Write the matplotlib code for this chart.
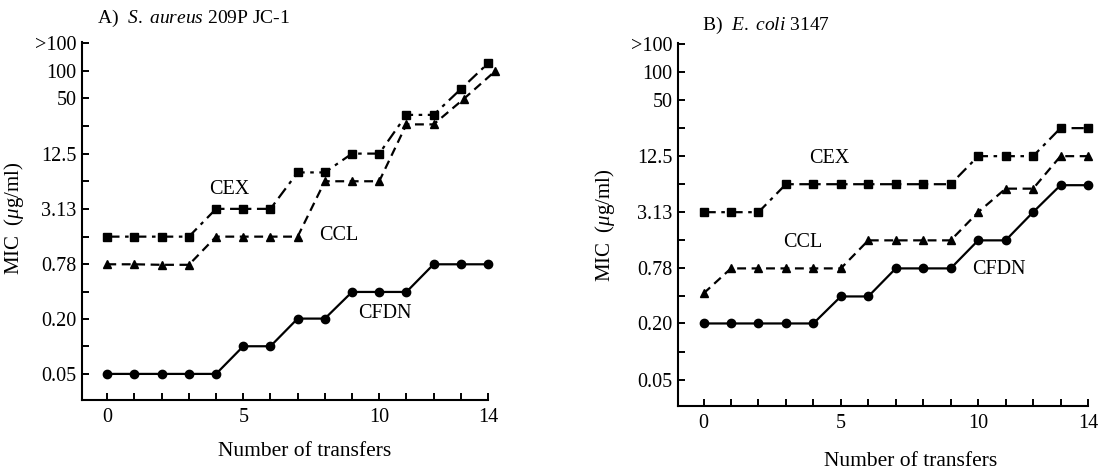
import matplotlib
matplotlib.use("Agg")
import matplotlib.pyplot as plt

plt.rcParams["font.family"] = ["Liberation Serif", "DejaVu Serif"]
plt.rcParams["mathtext.fontset"] = "custom"
plt.rcParams["mathtext.rm"] = "Liberation Serif"
plt.rcParams["mathtext.it"] = "Liberation Serif:italic"

transfers = list(range(15))

# MIC tick values (two-fold dilution series); the top row stands for ">100"
mic_ticks = [0.05, 0.1, 0.2, 0.39, 0.78, 1.56, 3.13, 6.25, 12.5, 25, 50, 100, 200]
mic_labels = ["0.05", "", "0.20", "", "0.78", "", "3.13", "", "12.5", "", "50", "100", ">100"]
x_ticks = list(range(15))
x_labels = ["0", "", "", "", "", "5", "", "", "", "", "10", "", "", "", "14"]

# Panel A: S. aureus 209P JC-1
a_cex = [1.56, 1.56, 1.56, 1.56, 3.13, 3.13, 3.13, 7.8, 7.8, 12.5, 12.5, 33, 33, 63, 120]
a_ccl_x = [0, 1, 2, 3, 4, 5, 6, 7, 8, 9, 10, 11, 12, 13.1, 14.25]
a_ccl = [0.78, 0.78, 0.77, 0.77, 1.56, 1.56, 1.56, 1.56, 6.25, 6.25, 6.25, 26, 26, 49, 98]
a_cfdn = [0.05, 0.05, 0.05, 0.05, 0.05, 0.1, 0.1, 0.2, 0.2, 0.39, 0.39, 0.39, 0.78, 0.78, 0.78]

# Panel B: E. coli 3147
b_cex = [3.13, 3.13, 3.13, 6.25, 6.25, 6.25, 6.25, 6.25, 6.25, 6.25, 12.5, 12.5, 12.5, 25, 25]
b_ccl = [0.42, 0.78, 0.78, 0.78, 0.78, 0.78, 1.56, 1.56, 1.56, 1.56, 3.13, 5.6, 5.6, 12.5, 12.5]
b_cfdn = [0.2, 0.2, 0.2, 0.2, 0.2, 0.39, 0.39, 0.78, 0.78, 0.78, 1.56, 1.56, 3.13, 6.1, 6.1]

fig = plt.figure(figsize=(11.11, 4.76), dpi=100)
W, H = 1111, 476


def make_axes(left, right, top, bottom):
    return fig.add_axes([left / W, 1 - bottom / H, (right - left) / W, (bottom - top) / H])


ax_a = make_axes(82, 488, 42, 400)
ax_b = make_axes(678, 1088, 43, 406)

lw = 1.6
for ax in (ax_a, ax_b):
    ax.set_yscale("log", base=2)
    ax.set_ylim(0.026, 205)
    ax.set_xlim(-0.93, 14)
    ax.set_yticks(mic_ticks)
    ax.set_yticklabels(mic_labels)
    ax.minorticks_off()
    ax.set_xticks(x_ticks)
    ax.set_xticklabels(x_labels)
    ax.tick_params(axis="both", direction="in", length=5, width=1.4,
                   labelsize=14.5, color="black")
    ax.tick_params(axis="x", pad=6)
    ax.tick_params(axis="y", pad=4)
    for side in ("top", "right"):
        ax.spines[side].set_visible(False)
    for side in ("left", "bottom"):
        ax.spines[side].set_linewidth(1.5)
    ax.set_facecolor("white")


def draw(ax, cex, ccl_x, ccl, cfdn):
    ax.plot(transfers, cex, color="black", lw=lw, dashes=(5.5, 2.5, 1.6, 2.5),
            marker="s", markersize=5.5, clip_on=False)
    ax.plot(ccl_x, ccl, color="black", lw=lw, dashes=(4, 2.5),
            marker="^", markersize=6, clip_on=False)
    ax.plot(transfers, cfdn, color="black", lw=lw, linestyle="-",
            marker="o", markersize=6, clip_on=False)


draw(ax_a, a_cex, a_ccl_x, a_ccl, a_cfdn)
draw(ax_b, b_cex, transfers, b_ccl, b_cfdn)

lab = dict(fontsize=14.5, ha="center", va="center")
ax_a.text(4.49, 5.1, "CEX", **lab)
ax_a.text(8.5, 1.6, "CCL", **lab)
ax_a.text(10.22, 0.23, "CFDN", **lab)
ax_b.text(4.56, 11.9, "CEX", **lab)
ax_b.text(3.61, 1.48, "CCL", **lab)
ax_b.text(10.77, 0.76, "CFDN", **lab)

# Panel titles
fig.text(97 / W, 1 - 18 / H, r"A)  $S.\ aureus$ 209P JC-1", fontsize=14, ha="left", va="center")
fig.text(702 / W, 1 - 25 / H, r"B)  $E.\ coli$ 3147", fontsize=14, ha="left", va="center")

# Axis labels
fig.text(14 / W, 1 - 218 / H, r"MIC  ($\mu$g/ml)", fontsize=15, rotation=90, ha="center", va="center")
fig.text(605 / W, 1 - 225 / H, r"MIC  ($\mu$g/ml)", fontsize=15, rotation=90, ha="center", va="center")
fig.text(305 / W, 1 - 452 / H, "Number of transfers", fontsize=15.5, ha="center", va="center")
fig.text(911 / W, 1 - 462 / H, "Number of transfers", fontsize=15.5, ha="center", va="center")

fig.savefig("out.png", dpi=100, facecolor="white")
